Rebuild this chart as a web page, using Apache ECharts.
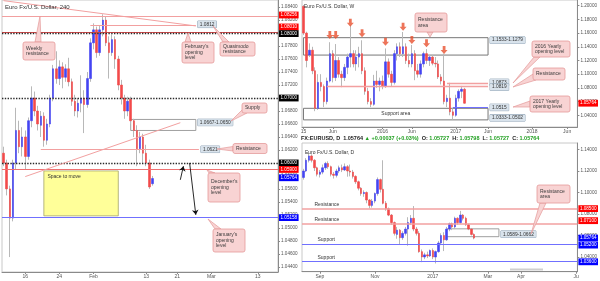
<!DOCTYPE html>
<html><head><meta charset="utf-8">
<script src="https://cdn.jsdelivr.net/npm/echarts@6/dist/echarts.min.js"></script>
<style>html,body{margin:0;padding:0;background:#fff}#c{width:600px;height:281px}</style>
</head><body><div id="c"></div>
<script>
// ---------------- DATA ----------------
// H4 chart (each slot = half a trading day), candles [open, high, low, close]
const h4SlotCount = 89;
const h4AxisLabels = [[7,'16'],[18,'24'],[29,'Feb'],[46,'13'],[56,'21'],[67,'Mar'],[82,'13']];
const h4Ticks = [1.044,1.046,1.048,1.050,1.052,1.054,1.056,1.058,1.060,1.062,1.064,1.066,1.068,1.070,1.072,1.074,1.076,1.078,1.080,1.082,1.084];
const h4Candles = [
[1.0615,1.0625,1.0595,1.0600],[1.0600,1.0605,1.0550,1.0560],[1.0560,1.0565,1.0455,1.0515],[1.0515,1.0605,1.0510,1.0600],
[1.0600,1.0685,1.0590,1.0650],[1.0650,1.0665,1.0615,1.0625],[1.0625,1.0655,1.0610,1.0640],[1.0640,1.0650,1.0590,1.0610],
[1.0610,1.0670,1.0605,1.0665],[1.0665,1.0718,1.0655,1.0700],[1.0700,1.0710,1.0672,1.0680],[1.0680,1.0688,1.0650,1.0660],
[1.0658,1.0680,1.0640,1.0672],[1.0672,1.0678,1.0625,1.0635],[1.0635,1.0668,1.0628,1.0660],[1.0660,1.0705,1.0655,1.0700],
[1.0700,1.0751,1.0695,1.0745],[1.0745,1.0772,1.0722,1.0730],[1.0730,1.0758,1.0720,1.0748],[1.0748,1.0755,1.0715,1.0732],
[1.0732,1.0752,1.0725,1.0745],[1.0745,1.0762,1.0718,1.0725],[1.0725,1.0730,1.0688,1.0695],[1.0695,1.0705,1.0672,1.0680],
[1.0680,1.0700,1.0670,1.0692],[1.0692,1.0735,1.0678,1.0700],[1.0700,1.0712,1.0646,1.0690],[1.0690,1.0740,1.0685,1.0730],
[1.0730,1.0792,1.0725,1.0785],[1.0785,1.0815,1.0775,1.0805],[1.0805,1.0810,1.0762,1.0770],[1.0770,1.0812,1.0765,1.0805],
[1.0805,1.0829,1.0795,1.0820],[1.0820,1.0825,1.0780,1.0785],[1.0785,1.0795,1.0730,1.0770],[1.0770,1.0798,1.0765,1.0790],
[1.0790,1.0795,1.0745,1.0760],[1.0760,1.0765,1.0712,1.0720],[1.0720,1.0728,1.0690,1.0700],[1.0700,1.0705,1.0668,1.0680],
[1.0680,1.0702,1.0672,1.0695],[1.0698,1.0702,1.0660,1.0665],[1.0665,1.0668,1.0640,1.0650],[1.0650,1.0658,1.0595,1.0622],
[1.0622,1.0648,1.0615,1.0640],[1.0640,1.0645,1.0600,1.0615],[1.0615,1.0628,1.0595,1.0600],[1.0600,1.0605,1.0560,1.0563],
[1.0568,1.0580,1.0565,1.0576]
];
const h4WeeklyRes = 1.08256, h4Quasimodo = 1.0812, h4FebOpen = 1.0801, h4DecOpen = 1.0590, h4JanOpen = 1.05158;
const h4Psych = [1.0800, 1.0700, 1.0600];
const h4Resistance = 1.0621, h4Supply = [1.0667, 1.0650], h4Last = 1.05764;
const h4SpaceBox = [1.05877, 1.05185];
const h4Diagonal = [[0, 1.0850], [62, 1.0811]];
const h4Trend = [[7, 1.0579], [57, 1.0662]];
const h4ArrowUp = [[57, 1.0574], [58, 1.0595]];
const h4ArrowDown = [[60, 1.0600], [62, 1.0520]];

// Weekly chart (each slot = 2 weeks)
const wSlotCount = 94;
const wAxisLabels = [[0,'15'],[10,'Jun'],[27,'2016'],[37,'Jun'],[52,'2017'],[63,'Jun'],[78,'2018'],[90,'Jun']];
const wTicks = [1.04,1.06,1.08,1.10,1.12,1.14,1.16,1.18,1.20];
const wCandles = [
[1.1990,1.2010,1.1570,1.1600],[1.1600,1.1620,1.1100,1.1200],[1.1280,1.1450,1.1250,1.1350],[1.1350,1.1400,1.1000,1.1050],
[1.1050,1.1100,1.0460,1.0500],[1.0500,1.1000,1.0480,1.0880],[1.0880,1.1000,1.0750,1.0820],[1.0820,1.0850,1.0520,1.0600],
[1.0600,1.0950,1.0560,1.0900],[1.0900,1.1467,1.0880,1.1300],[1.1300,1.1350,1.0880,1.0950],[1.0950,1.1440,1.0900,1.1200],
[1.1200,1.1250,1.0950,1.1000],[1.1000,1.1050,1.0810,1.0950],[1.0950,1.1150,1.0900,1.1100],[1.1100,1.1300,1.1000,1.1250],
[1.1250,1.1714,1.1100,1.1300],[1.1300,1.1350,1.1100,1.1150],[1.1150,1.1350,1.1050,1.1250],[1.1250,1.1400,1.1100,1.1300],
[1.1300,1.1495,1.1000,1.1050],[1.1050,1.1100,1.0700,1.0750],[1.0750,1.0800,1.0560,1.0600],[1.0600,1.0650,1.0520,1.0560],
[1.0560,1.0990,1.0540,1.0900],[1.0900,1.1050,1.0800,1.0850],[1.0850,1.0950,1.0750,1.0900],[1.0900,1.0980,1.0780,1.0820],
[1.0820,1.1376,1.0800,1.1180],[1.1180,1.1230,1.0950,1.1000],[1.1000,1.1050,1.0820,1.0880],[1.0880,1.1350,1.0850,1.1300],
[1.1300,1.1450,1.1200,1.1400],[1.1400,1.1464,1.1250,1.1300],[1.1300,1.1616,1.1250,1.1400],[1.1400,1.1450,1.1150,1.1200],
[1.1200,1.1300,1.1100,1.1150],[1.1150,1.1427,1.1100,1.1300],[1.1300,1.1350,1.0912,1.1050],[1.1050,1.1150,1.0950,1.1000],
[1.1000,1.1200,1.0950,1.1150],[1.1150,1.1330,1.1100,1.1300],[1.1300,1.1366,1.1150,1.1200],[1.1200,1.1280,1.1120,1.1250],
[1.1250,1.1280,1.1130,1.1160],[1.1160,1.1250,1.1100,1.1150],[1.1150,1.1200,1.0930,1.0960],[1.0960,1.1000,1.0850,1.0900],
[1.0900,1.1300,1.0560,1.0600],[1.0600,1.0700,1.0520,1.0650],[1.0650,1.0874,1.0400,1.0450],[1.0450,1.0500,1.0340,1.0400],
[1.0400,1.0700,1.0380,1.0650],[1.0650,1.0780,1.0600,1.0750],[1.0750,1.0829,1.0650,1.0780],[1.0780,1.0800,1.0570,1.0576]
];
const wArrowIdx = [9, 11, 16, 20, 28, 34, 37, 42, 48];
const wArrowPrice = [1.1572, 1.1572, 1.1752, 1.1597, 1.1474, 1.1693, 1.1499, 1.1451, 1.1353];
const wResArea = [1.1533, 1.1279], wSupArea = [1.0502, 1.0333];
const w2016Open = 1.0873, wResistance = 1.0819, w2017Open = 1.0515, wLast = 1.05764;

// Daily chart (each slot = 2 trading days)
const dSlotCount = 100;
const dAxisLabels = [[6,'Sep'],[26,'Nov'],[47,'2017'],[67,'Mar'],[79,'Apr'],[99,'Ju']];
const dTicks = [1.04,1.06,1.08,1.10,1.12,1.14];
const dCandles = [
[1.1140,1.1220,1.1120,1.1200],[1.1200,1.1320,1.1190,1.1300],[1.1300,1.1366,1.1280,1.1340],[1.1340,1.1355,1.1280,1.1300],
[1.1300,1.1310,1.1200,1.1230],[1.1230,1.1240,1.1150,1.1170],[1.1170,1.1210,1.1140,1.1190],[1.1190,1.1260,1.1170,1.1230],
[1.1230,1.1285,1.1210,1.1270],[1.1270,1.1290,1.1220,1.1240],[1.1240,1.1250,1.1150,1.1170],[1.1170,1.1190,1.1130,1.1160],
[1.1160,1.1220,1.1140,1.1200],[1.1200,1.1250,1.1180,1.1230],[1.1230,1.1260,1.1190,1.1210],[1.1210,1.1270,1.1200,1.1240],
[1.1240,1.1255,1.1147,1.1200],[1.1200,1.1260,1.1150,1.1190],[1.1190,1.1210,1.1130,1.1150],[1.1150,1.1160,1.1080,1.1100],
[1.1100,1.1110,1.1020,1.1040],[1.1040,1.1050,1.0970,1.0990],[1.0990,1.1020,1.0960,1.1000],[1.1000,1.1010,1.0900,1.0930],
[1.0930,1.0940,1.0852,1.0880],[1.0880,1.0940,1.0860,1.0920],[1.0920,1.1000,1.0900,1.0990],[1.0990,1.1140,1.0970,1.1120],
[1.1120,1.1130,1.1000,1.1030],[1.1030,1.1300,1.0890,1.0900],[1.0900,1.0920,1.0830,1.0850],[1.0850,1.0860,1.0780,1.0790],
[1.0790,1.0800,1.0700,1.0720],[1.0720,1.0730,1.0600,1.0620],[1.0610,1.0680,1.0570,1.0650],[1.0650,1.0660,1.0518,1.0580],
[1.0580,1.0640,1.0560,1.0620],[1.0620,1.0680,1.0600,1.0660],[1.0660,1.0770,1.0505,1.0720],[1.0720,1.0790,1.0700,1.0760],
[1.0760,1.0874,1.0640,1.0660],[1.0660,1.0680,1.0600,1.0620],[1.0620,1.0640,1.0440,1.0450],[1.0450,1.0470,1.0352,1.0400],
[1.0400,1.0440,1.0380,1.0420],[1.0420,1.0450,1.0390,1.0410],[1.0410,1.0470,1.0400,1.0460],[1.0460,1.0480,1.0380,1.0400],
[1.0400,1.0460,1.0340,1.0450],[1.0450,1.0550,1.0440,1.0530],[1.0530,1.0620,1.0510,1.0600],[1.0600,1.0630,1.0455,1.0560],
[1.0560,1.0680,1.0550,1.0660],[1.0660,1.0720,1.0640,1.0710],[1.0710,1.0720,1.0650,1.0680],[1.0680,1.0775,1.0660,1.0760],
[1.0760,1.0770,1.0700,1.0720],[1.0720,1.0829,1.0710,1.0790],[1.0790,1.0800,1.0740,1.0760],[1.0760,1.0775,1.0690,1.0700],
[1.0700,1.0710,1.0650,1.0660],[1.0660,1.0670,1.0600,1.0610],[1.0610,1.0620,1.0565,1.0576]
];
const dResistance = [1.0850, 1.0710], dSupport = [1.0520, 1.0360], dLast = 1.05764;
const dBox = [1.0662, 1.0589];

// ---------------- STYLE / HELPERS ----------------
const FONT = '"Liberation Sans", Arial, sans-serif';
const UP = '#4444f2', DN = '#f24a4a', WICK = '#b8b8b8';
const PINK = '#f2a0a0', REDLINE = '#ee7070', BLUEL = '#7070ff';
const CALL_FILL = '#f8d3d3', CALL_STROKE = '#e49a9a';
const CLEAR = 'rgba(0,0,0,0)';

function xAxisCfg(gridIndex, n, labels) {
  const map = {}; labels.forEach(([i, t]) => { map[i] = t; });
  return {
    type: 'category', gridIndex, data: Array.from({length: n}, (_, i) => 'c' + i), boundaryGap: true,
    axisLine: {lineStyle: {color: '#8a8a8a', width: 1}},
    axisTick: {show: true, alignWithLabel: true, length: 2, interval: (i) => map[i] !== undefined, lineStyle: {color: '#8a8a8a'}},
    axisLabel: {interval: 0, formatter: (v, i) => map[i] || '', fontSize: 5, color: '#555', margin: 2, fontFamily: FONT},
    splitLine: {show: false}
  };
}
function yAxisCfg(gridIndex, min, max, ticks) {
  return {
    type: 'value', gridIndex, position: 'right', min, max,
    axisLine: {show: true, lineStyle: {color: '#8a8a8a'}},
    axisTick: {show: true, length: 2, customValues: ticks, lineStyle: {color: '#8a8a8a'}},
    axisLabel: {customValues: ticks, formatter: v => v.toFixed(5), fontSize: 4.6, color: '#555', margin: 3, fontFamily: FONT},
    splitLine: {show: false}
  };
}
function candleSeries(xi, candles) {
  const wick = candles.map(([o, h, l, c]) => [o, c, l, h]);
  const body = candles.map(([o, h, l, c]) => [o, c, Math.min(o, c), Math.max(o, c)]);
  return [
    {type: 'candlestick', xAxisIndex: xi, yAxisIndex: xi, data: wick, barWidth: 1, silent: true, animation: false, z: 3,
      itemStyle: {color: WICK, color0: WICK, borderColor: WICK, borderColor0: WICK, borderWidth: 1}},
    {type: 'candlestick', xAxisIndex: xi, yAxisIndex: xi, data: body, barWidth: 2, silent: true, animation: false, z: 4,
      itemStyle: {color: UP, color0: DN, borderColor: UP, borderColor0: DN, borderWidth: 0.6}}
  ];
}
function pill(v, bg, dy) {
  return {show: true, position: 'end', distance: 1, offset: [0, dy || 0], backgroundColor: bg, color: '#fff',
    fontSize: 4.6, fontFamily: FONT, padding: [1.2, 1.5, 0.6, 1.5], formatter: v.toFixed(5)};
}
function vbox(text, dy) {
  return {show: true, position: 'end', distance: 2, offset: [0, dy || 0], backgroundColor: '#d9e3ec', borderColor: '#8fa3b5',
    borderWidth: 0.5, color: '#333', fontSize: 4.8, fontFamily: FONT, padding: [1, 2, 0.5, 2], formatter: text};
}
function hLine(v, color, width, type, label) {
  return {yAxis: v, lineStyle: {color: color || CLEAR, width: color ? width : 0.01, type: type || 'solid'}, label: label || {show: false}};
}
function seg(p1, p2, color, width, label, endSymbol) {
  return [
    {coord: p1, symbol: 'none', lineStyle: {color: color || CLEAR, width: color ? width : 0.01, type: 'solid'}, label: label || {show: false}},
    {coord: p2, symbol: endSymbol || 'none', symbolSize: 5}
  ];
}
function textOnLine(v, text, dx) {
  return {yAxis: v, lineStyle: {color: CLEAR, width: 0.01}, label: {show: true, position: 'insideStartTop', distance: 1.5, offset: [dx, 0],
    formatter: text, color: '#333', fontSize: 5, fontFamily: FONT}};
}
function callout(x, y, w, h, text, tip, b1, b2) {
  return [
    {type: 'polygon', z: 100, shape: {points: [b1, tip, b2]}, style: {fill: CALL_FILL, stroke: CALL_STROKE, lineWidth: 0.7}},
    {type: 'rect', z: 101, shape: {x, y, width: w, height: h, r: 2}, style: {fill: CALL_FILL, stroke: CALL_STROKE, lineWidth: 0.8}},
    {type: 'text', z: 102, style: {text, x: x + 3, y: y + h / 2, font: '5px "Liberation Sans", Arial', fill: '#3a3a3a',
      textAlign: 'left', textVerticalAlign: 'middle', lineHeight: 5.6}}
  ];
}

const MLBASE = {symbol: ['none', 'none'], silent: true, animation: false, precision: 6, label: {show: false}};

// ---------------- SERIES ----------------
const series = [];
// H4 marks
series.push({
  type: 'line', xAxisIndex: 0, yAxisIndex: 0, data: [], z: 5,
  markArea: {silent: true, animation: false, data: [
    [{coord: [13, h4SpaceBox[0]], itemStyle: {color: '#ffff99', borderColor: '#a3a36a', borderWidth: 0.8},
      label: {show: true, position: 'insideTopLeft', distance: 4, formatter: 'Space to move', color: '#333', fontSize: 5, fontFamily: FONT}},
     {coord: [37, h4SpaceBox[1]]}],
    [{coord: [41, h4Supply[0]], itemStyle: {color: 'rgba(255,255,255,0)', borderColor: '#888', borderWidth: 0.8}, label: {show: false}},
     {coord: [62, h4Supply[1]]}]
  ]},
  markLine: Object.assign({}, MLBASE, {data: [
    hLine(h4WeeklyRes, PINK, 1, 'solid', pill(h4WeeklyRes, '#ff0000', -1.5)),
    hLine(h4FebOpen, '#d04848', 1.2, 'solid', pill(h4FebOpen, '#ff0000', -5.5)),
    hLine(h4Psych[0], '#2a2a2a', 1.4, [1.4, 1.4], pill(h4Psych[0], '#000000', 0.5)),
    hLine(h4Psych[1], '#2a2a2a', 1.4, [1.4, 1.4], pill(h4Psych[1], '#000000', 0)),
    hLine(h4Psych[2], '#2a2a2a', 1.4, [1.4, 1.4], pill(h4Psych[2], '#000000', 0)),
    hLine(h4DecOpen, REDLINE, 1, 'solid', pill(h4DecOpen, '#ff0000', 0)),
    hLine(h4Last, null, 0, 'solid', pill(h4Last, '#0000ff', -0.5)),
    hLine(h4JanOpen, BLUEL, 1, 'solid', pill(h4JanOpen, '#0000ff', 0)),
    seg([28, h4Quasimodo], [62, h4Quasimodo], PINK, 1, vbox('1.0812', -1)),
    seg([12, h4Resistance], [63, h4Resistance], PINK, 1, vbox('1.0621', 0)),
    seg([41, h4Supply[0]], [62, h4Supply[0]], null, 0, vbox('1.0667-1.0650', 3)),
    seg(h4Diagonal[0], h4Diagonal[1], PINK, 1),
    seg(h4Trend[0], h4Trend[1], PINK, 1),
    seg(h4ArrowUp[0], h4ArrowUp[1], '#111', 0.9, null, 'arrow'),
    seg(h4ArrowDown[0], h4ArrowDown[1], '#111', 0.9, null, 'arrow')
  ]})
});
series.push(...candleSeries(0, h4Candles));

// Weekly marks
series.push({
  type: 'line', xAxisIndex: 1, yAxisIndex: 1, data: [], z: 5,
  markArea: {silent: true, animation: false, data: [
    [{coord: [0, wResArea[0]], itemStyle: {color: 'rgba(255,255,255,0)', borderColor: '#777', borderWidth: 1}, label: {show: false}},
     {coord: [63, wResArea[1]]}],
    [{coord: [0, wSupArea[0]], itemStyle: {color: 'rgba(255,255,255,0)', borderColor: '#777', borderWidth: 1},
      label: {show: true, position: 'inside', formatter: 'Support area', color: '#333', fontSize: 5, fontFamily: FONT}},
     {coord: [63, wSupArea[1]]}]
  ]},
  markLine: Object.assign({}, MLBASE, {data: [
    seg([0, wResArea[0]], [63, wResArea[0]], null, 0, vbox('1.1533-1.1279', 2.5)),
    seg([0, wSupArea[1]], [63, wSupArea[1]], null, 0, vbox('1.0333-1.0502', -2)),
    seg([49, w2016Open], [63, w2016Open], PINK, 1.4, vbox('1.0873', -0.5)),
    seg([8, wResistance], [63, wResistance], PINK, 1.4, vbox('1.0819', 0.5)),
    seg([51, w2017Open], [63, w2017Open], BLUEL, 1.2, vbox('1.0515', 0)),
    hLine(wLast, null, 0, 'solid', pill(wLast, '#ff0000', 0))
  ]})
});
series.push(...candleSeries(1, wCandles));
series.push({
  type: 'scatter', xAxisIndex: 1, yAxisIndex: 1, silent: true, animation: false, z: 6,
  data: wArrowIdx.map((i, k) => [i, wArrowPrice[k]]),
  symbol: 'path://M3,0 L7,0 L7,6 L10,6 L5,12 L0,6 L3,6 Z', symbolSize: [7, 8],
  itemStyle: {color: '#e8512f'}
});

// Daily marks
series.push({
  type: 'line', xAxisIndex: 2, yAxisIndex: 2, data: [], z: 5,
  markArea: {silent: true, animation: false, data: [
    [{coord: [52, dBox[0]], itemStyle: {color: 'rgba(255,255,255,0)', borderColor: '#888', borderWidth: 0.8}, label: {show: false}},
     {coord: [71, dBox[1]]}]
  ]},
  markLine: Object.assign({}, MLBASE, {data: [
    hLine(dResistance[0], PINK, 1.6, 'solid', pill(dResistance[0], '#ff0000', 0)),
    hLine(dResistance[1], PINK, 1.6, 'solid', pill(dResistance[1], '#ff0000', -3)),
    hLine(dLast, null, 0, 'solid', pill(dLast, '#0000ff', 0)),
    hLine(dSupport[0], BLUEL, 1.2, 'solid', pill(dSupport[0], '#0000ff', 1)),
    hLine(dSupport[1], BLUEL, 1.2, 'solid', pill(dSupport[1], '#0000ff', 0.5)),
    textOnLine(dResistance[0], 'Resistance', 11),
    textOnLine(dResistance[1], 'Resistance', 11),
    textOnLine(dSupport[0], 'Support', 14),
    textOnLine(dSupport[1], 'Support', 14),
    seg([52, dBox[1]], [71, dBox[1]], null, 0, vbox('1.0589-1.0662', -2.5))
  ]})
});
series.push(...candleSeries(2, dCandles));

// ---------------- ANNOTATIONS ----------------
const graphics = [].concat(
  [{type: 'text', z: 100, style: {text: 'Euro Fx/U.S. Dollar, 240', x: 5, y: 7, font: '6px "Liberation Sans", Arial', fill: '#333', textVerticalAlign: 'middle'}},
   {type: 'text', z: 100, style: {text: 'Euro Fx/U.S. Dollar, W', x: 304, y: 7, font: '5px "Liberation Sans", Arial', fill: '#333', textVerticalAlign: 'middle'}},
   {type: 'text', z: 100, style: {text: 'Euro Fx/U.S. Dollar, D', x: 305, y: 152.5, font: '5px "Liberation Sans", Arial', fill: '#333', textVerticalAlign: 'middle'}},
   {type: 'text', z: 100, style: {
     text: '{k|FX:EURUSD, D  1.05764 }{g|▲ +0.00037 (+0.03%)}{k|  O: }{g|1.05727}{k|  H: }{g|1.05798}{k|  L: }{g|1.05727}{k|  C: }{g|1.05764}',
     x: 301, y: 138.5, textVerticalAlign: 'middle', font: 'bold 5.5px "Liberation Sans", Arial',
     rich: {k: {fill: '#222', fontSize: 5.5, fontWeight: 'bold', fontFamily: FONT}, g: {fill: '#22a022', fontSize: 5.5, fontWeight: 'bold', fontFamily: FONT}}}},
   {type: 'rect', z: 100, shape: {x: 510, y: 268.5, width: 33, height: 2}, style: {fill: '#cfcfcf'}}],
  callout(23, 42, 32, 18, 'Weekly\nresistance', [40, 16], [35, 42], [41, 42]),
  callout(182, 42, 32, 21, "February's\nopening\nlevel", [188, 33], [185, 42], [191, 42]),
  callout(220, 42, 35, 14, 'Quasimodo\nresistance', [213, 26], [223, 42], [229, 42]),
  callout(242, 103, 25, 10, 'Supply', [231, 121], [243, 109], [247, 113]),
  callout(233, 143.5, 34, 10, 'Resistance', [217, 149], [233, 146.5], [233, 151]),
  callout(208, 173, 32, 29, "December's\nopening\nlevel", [207, 170], [209, 173], [215, 173]),
  callout(213, 229, 32, 23, "January's\nopening\nlevel", [208, 219], [215, 229], [221, 229]),
  callout(415, 13, 32, 19, 'Resistance\narea', [430, 37], [427, 32], [433, 32]),
  callout(532, 41, 38, 16, '2016 Yearly\nopening level', [513, 83], [534, 57], [540, 57]),
  callout(533, 68, 32, 12, 'Resistance', [513, 87], [533, 74], [536, 80]),
  callout(530, 96, 40, 16, '2017 Yearly\nopening level', [513, 107], [530, 101], [530, 107]),
  callout(537, 185, 33, 18, 'Resistance\narea', [531, 234], [540, 203], [546, 203])
);

// ---------------- CHART ----------------
const chart = echarts.init(document.getElementById('c'), null, {renderer: 'canvas', width: 600, height: 281});
chart.setOption({
  animation: false,
  backgroundColor: '#ffffff',
  grid: [
    {left: 2, top: 0, width: 276, height: 272, show: true, borderColor: '#c8c8c8', borderWidth: 1},
    {left: 302, top: 0, width: 276, height: 127, show: true, borderColor: '#c8c8c8', borderWidth: 1},
    {left: 302, top: 143, width: 276, height: 128.7, show: true, borderColor: '#c8c8c8', borderWidth: 1}
  ],
  xAxis: [xAxisCfg(0, h4SlotCount, h4AxisLabels), xAxisCfg(1, wSlotCount, wAxisLabels), xAxisCfg(2, dSlotCount, dAxisLabels)],
  yAxis: [yAxisCfg(0, 1.0432, 1.0851, h4Ticks), yAxisCfg(1, 1.0229, 1.2083, wTicks), yAxisCfg(2, 1.02633, 1.14605, dTicks)],
  series,
  graphic: graphics
});
</script></body></html>
